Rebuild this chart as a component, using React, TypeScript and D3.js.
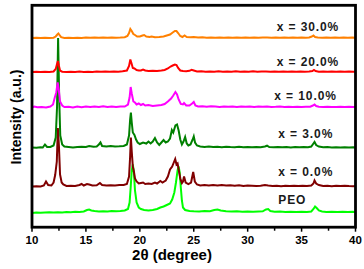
import React from "react";
import * as d3 from "d3";

// ---- data (2θ in degrees, intensity above each pattern's own baseline, a.u.) ----
const seriesNames = ["PEO", "x = 0.0%", "x = 3.0%", "x = 10.0%", "x = 20.0%", "x = 30.0%"];
const seriesColors = ["#00FF00", "#800000", "#008000", "#FF00FF", "#FF0000", "#FF8000"];
const offsets = [14.5, 40.5, 79.5, 119.5, 155, 189];

const peo: [number, number][] = [
  [10,-0.5],[10.4,0],[10.8,-0.3],[11.2,0],[11.6,0.3],[12.0,0],[12.4,0.3],[12.8,0],[13.2,0.5],[13.6,0.3],[14.0,0.8],[14.4,0.5],[14.8,1],[15.1,2.5],[15.3,3],[15.5,2],[15.8,1.5],[16.2,1],[16.6,1.3],[17.0,1],[17.4,1.5],[17.8,1.2],[18.2,1.5],[18.6,2],[18.9,3.5],[19.05,10],[19.15,25],[19.25,42],[19.35,48],[19.45,40],[19.55,22],[19.7,10],[19.9,5],[20.1,3.5],[20.4,2.5],[20.8,2],[21.2,2.5],[21.6,3.5],[21.9,5],[22.2,6],[22.5,7.5],[22.8,9],[23.0,13],[23.2,20],[23.35,30],[23.5,42],[23.6,46],[23.7,40],[23.8,25],[23.9,12],[24.0,5],[24.2,2.5],[24.6,1.5],[25.0,1.2],[25.5,1],[26.0,1.5],[26.5,1.3],[26.9,2.5],[27.2,3],[27.5,2],[28.0,1.2],[28.5,1],[29.0,1.3],[29.5,0.8],[30.0,1],[30.5,0.8],[31.0,1],[31.4,1.2],[31.7,3],[31.9,3.5],[32.1,1.5],[32.5,0.8],[33.0,1],[33.5,0.5],[34.0,0.8],[34.5,0.5],[35.0,0.8],[35.5,0.5],[35.9,1],[36.1,3.5],[36.25,6],[36.4,4.5],[36.6,2],[36.9,1],[37.3,0.5],[37.8,0.8],[38.3,0.5],[38.8,0.8],[39.3,0.5],[39.7,0.8],[40,0.5],
];

const x0: [number, number][] = [
  [10,0],[10.4,0.3],[10.8,0],[11.1,1],[11.3,5],[11.5,1.5],[11.8,1],[12.0,4],[12.15,11.5],[12.3,25],[12.4,58.5],[12.5,40],[12.6,12],[12.75,4],[12.9,2],[13.2,0.5],[13.6,0.8],[14.0,0.5],[14.4,1.5],[14.6,2.5],[14.8,1],[15.1,2.5],[15.3,2],[15.6,1],[16.0,1.2],[16.3,3.5],[16.5,1.5],[16.9,1],[17.3,1.2],[17.7,1],[18.1,1.5],[18.5,1.5],[18.8,2.5],[19.0,10],[19.1,30],[19.17,49],[19.25,35],[19.35,20],[19.45,15],[19.55,8],[19.7,5],[19.9,3],[20.1,3.5],[20.3,4],[20.5,2.5],[20.8,3],[21.1,2.5],[21.4,4],[21.6,3],[21.9,5.5],[22.1,4],[22.4,6],[22.6,10],[22.8,17],[23.0,20],[23.15,24],[23.28,27.5],[23.4,22],[23.5,23],[23.6,17],[23.75,8],[23.9,3.5],[24.0,5],[24.1,10],[24.25,4],[24.5,2.5],[24.75,4],[24.95,14.5],[25.1,5],[25.3,2],[25.6,1],[26.0,1.5],[26.4,1],[26.8,1.5],[27.2,1],[27.6,1.5],[28.0,1],[28.4,1.2],[28.8,0.8],[29.2,1.2],[29.6,0.5],[30.0,1],[30.4,0.8],[30.8,0.5],[31.2,0.8],[31.6,1.5],[31.9,1],[32.3,0.5],[32.7,0.8],[33.1,0.3],[33.5,0.8],[33.9,0.5],[34.3,0.8],[34.7,0.5],[35.1,0.8],[35.5,0.5],[35.9,1],[36.1,3],[36.2,6],[36.35,3],[36.6,1.5],[37.0,0.5],[37.4,0.8],[37.8,0.3],[38.2,0.8],[38.6,0.5],[39.0,0.8],[39.4,0.5],[39.8,0.3],[40,0.5],
];

const x3: [number, number][] = [
  [10,0],[10.4,-0.3],[10.8,0.3],[11.0,0],[11.2,3],[11.4,0.5],[11.7,0.5],[12.0,2],[12.2,10],[12.32,40],[12.42,109.5],[12.52,50],[12.62,12],[12.8,3],[13.0,1],[13.4,0.5],[13.8,0],[14.2,0.5],[14.6,0.8],[15.0,0.5],[15.3,1.5],[15.7,0.8],[16.0,1],[16.2,3],[16.35,5],[16.5,1.5],[16.9,1],[17.3,1.5],[17.7,1],[18.1,1.2],[18.5,1.5],[18.8,3],[19.0,12],[19.1,28],[19.17,35],[19.25,25],[19.35,15],[19.5,12.5],[19.65,8],[19.8,5],[20.0,3.5],[20.3,5],[20.6,4],[20.8,6],[21.0,4],[21.2,6],[21.4,9.5],[21.6,5],[21.8,2.5],[22.0,5],[22.2,7.5],[22.4,5],[22.6,6],[22.8,9],[22.97,17.5],[23.1,15],[23.3,22],[23.45,23],[23.6,17],[23.75,8],[23.9,3],[24.05,6],[24.2,10.5],[24.35,4],[24.5,2],[24.7,3],[24.9,8],[25.0,11],[25.12,5],[25.3,2],[25.6,1],[26.0,0.5],[26.4,1],[26.8,0.5],[27.2,0.8],[27.6,0.3],[28.0,0.8],[28.4,0.5],[28.8,0.3],[29.2,0.8],[29.6,0.3],[30.0,0.5],[30.4,0.3],[30.8,0.5],[31.2,0.3],[31.6,1],[31.8,1.8],[32.0,0.5],[32.4,0.3],[32.8,0.5],[33.2,0.3],[33.6,0.5],[34.0,0],[34.4,0.5],[34.8,0.3],[35.2,0.5],[35.6,0.3],[35.9,1],[36.1,4],[36.2,5.5],[36.35,2.5],[36.6,1],[37.0,0.3],[37.4,0.5],[37.8,0],[38.2,0.3],[38.6,0],[39.0,0.3],[39.4,0],[39.8,0.3],[40,0],
];

const x10: [number, number][] = [
  [10,0],[10.2,1],[10.5,0.3],[10.9,0.5],[11.3,0],[11.7,1],[11.95,3],[12.1,9.5],[12.25,15],[12.38,25],[12.48,18],[12.6,6],[12.8,2],[13.0,0.5],[13.4,0.8],[13.8,0],[14.2,1],[14.6,0.3],[15.0,1],[15.4,0.5],[15.8,1],[16.2,0.5],[16.6,1.2],[17.0,0.5],[17.4,1],[17.8,0.5],[18.2,1],[18.6,1],[18.9,3],[19.05,10],[19.15,20.5],[19.25,14],[19.4,6],[19.55,5],[19.7,3],[19.9,4],[20.1,2.5],[20.3,3.5],[20.5,2],[20.8,2.5],[21.2,1.5],[21.6,2],[22.0,2.5],[22.3,3.5],[22.6,6],[22.9,9],[23.1,12],[23.3,15.5],[23.45,13],[23.6,8],[23.8,3.5],[24.0,3],[24.1,4.5],[24.3,2],[24.6,2],[24.85,4],[25.0,5.5],[25.15,2],[25.4,1],[25.8,1.2],[26.2,0.8],[26.6,1.3],[27.0,1],[27.4,0.6],[27.8,1.1],[28.2,0.8],[28.6,1.1],[29.0,0.6],[29.4,1.1],[29.8,0.8],[30.2,1.1],[30.6,0.6],[31.0,1.1],[31.4,0.8],[31.8,1.1],[32.2,0.6],[32.6,0.8],[33.0,1.1],[33.4,0.6],[33.8,0.8],[34.2,0.6],[34.6,0.8],[35.0,0.6],[35.4,0.8],[35.8,0.8],[36.05,2],[36.2,3],[36.35,1.5],[36.6,0.8],[37.0,0.6],[37.4,0.8],[37.8,0.6],[38.2,0.5],[38.6,0.8],[39.0,0.5],[39.4,0.8],[39.8,0.5],[40,0.8],
];

const x20: [number, number][] = [
  [10,0],[10.4,0.3],[10.8,0],[11.2,0.3],[11.6,0],[12.0,0.5],[12.2,3],[12.32,8],[12.4,11],[12.5,6],[12.6,1.5],[12.8,0.3],[13.2,0],[13.6,0.3],[14.0,0],[14.4,0.5],[14.8,0],[15.2,0.3],[15.6,0],[16.0,0.5],[16.4,0.2],[16.8,0.5],[17.2,0.3],[17.6,0.5],[18.0,0.3],[18.4,0.8],[18.8,1.5],[19.0,6],[19.12,12.5],[19.22,9],[19.35,4],[19.5,3.5],[19.7,2],[19.9,1.5],[20.1,1.5],[20.3,2.5],[20.5,1.5],[20.8,1],[21.2,1.2],[21.6,1],[22.0,1.5],[22.3,2],[22.6,3.5],[22.85,5.5],[23.05,6.5],[23.25,7.5],[23.4,7],[23.55,4],[23.75,1.5],[24.0,1],[24.3,0.8],[24.6,1.2],[24.8,2.2],[25.0,1.5],[25.3,0.5],[25.7,0.8],[26.1,0.3],[26.5,0.5],[26.9,0.3],[27.3,0.8],[27.7,0.3],[28.1,0.5],[28.5,0.3],[28.9,0.8],[29.3,0.3],[29.7,0.5],[30.1,0.3],[30.5,0.8],[30.9,0.3],[31.3,0.5],[31.7,0.5],[32.1,0.3],[32.5,0.5],[32.9,0.3],[33.3,0.5],[33.7,0.3],[34.1,0.5],[34.5,0.3],[34.9,0.5],[35.3,0.3],[35.7,0.5],[36.0,1],[36.15,2],[36.3,1],[36.6,0.3],[37.0,0.5],[37.4,0.3],[37.8,0.5],[38.2,0.3],[38.6,0.5],[39.0,0.3],[39.4,0.5],[39.8,0.3],[40,0.3],
];

const x30: [number, number][] = [
  [10,0],[10.4,0.2],[10.8,0],[11.2,0.3],[11.6,0],[12.0,0.3],[12.2,1.5],[12.35,3.5],[12.45,4.5],[12.55,3],[12.7,0.8],[13.0,0],[13.4,0.3],[13.8,0],[14.2,0.3],[14.6,0],[15.0,0.5],[15.4,0.2],[15.8,0.5],[16.2,0.2],[16.6,0.5],[17.0,0.3],[17.4,0.5],[17.8,0.3],[18.2,0.5],[18.6,0.8],[18.85,2],[19.0,5],[19.12,9],[19.25,7],[19.4,4],[19.55,3],[19.75,1.5],[20.0,1.5],[20.25,2.5],[20.4,3],[20.6,1.5],[20.9,1],[21.1,1.5],[21.4,0.8],[21.8,1],[22.2,1.5],[22.5,2.5],[22.8,3.5],[23.05,5.5],[23.25,7],[23.4,7],[23.55,5],[23.75,2],[23.95,1],[24.15,2.5],[24.35,1],[24.7,0.8],[25.0,1],[25.4,0.5],[25.8,0.8],[26.2,0.3],[26.6,0.5],[27.0,0.3],[27.4,0.5],[27.8,0.3],[28.2,0.5],[28.6,0.3],[29.0,0.5],[29.4,0.3],[29.8,0.5],[30.2,0.3],[30.6,0.5],[31.0,0.3],[31.4,0.5],[31.8,0.5],[32.2,0.3],[32.6,0.5],[33.0,0.3],[33.4,0.5],[33.8,0.3],[34.2,0.5],[34.6,0.3],[35.0,0.5],[35.4,0.3],[35.7,0.5],[35.95,1.5],[36.1,2.5],[36.25,1],[36.5,0.5],[36.9,0.3],[37.3,0.5],[37.7,0.3],[38.1,0.5],[38.5,0.3],[38.9,0.5],[39.3,0.3],[39.7,0.5],[40,0.3],
];

const seriesData = [peo, x0, x3, x10, x20, x30];

const majorTicks = [10, 15, 20, 25, 30, 35, 40];
const minorTicks = [12.5, 17.5, 22.5, 27.5, 32.5, 37.5];

// ---- layout ----
const W = 364, H = 269;
const plot = { left: 32, right: 355.5, top: 5.3, bottom: 227.2 };
// per-label placement: left edge (px) and baseline gap above the pattern baseline
const labelLayout = [
  { x: 278.3, gap: 9 },
  { x: 278.3, gap: 11 },
  { x: 278.3, gap: 10 },
  { x: 274.3, gap: 8 },
  { x: 276.7, gap: 6.5 },
  { x: 276.7, gap: 7 },
];

const FONT = "'Liberation Sans', Arial, sans-serif";

export default function App() {
  const x = d3.scaleLinear().domain([10, 40]).range([plot.left, plot.right]);
  const y = d3.scaleLinear().domain([0, 222]).range([227, 5]);
  const line = d3
    .line<[number, number]>()
    .x((d) => x(d[0]))
    .y((d) => d[1]);

  return (
    <svg
      width={W}
      height={H}
      viewBox={`0 0 ${W} ${H}`}
      style={{ position: "absolute", left: 0, top: 0, background: "#fff" }}
      fontFamily={FONT}
    >
      <rect x={0} y={0} width={W} height={H} fill="#fff" />
      {seriesData.map((s, i) => (
        <path
          key={seriesNames[i]}
          d={line(s.map((d) => [d[0], y(offsets[i] + d[1])] as [number, number])) || ""}
          fill="none"
          stroke={seriesColors[i]}
          strokeWidth={2}
          strokeLinejoin="miter"
        />
      ))}
      {seriesNames.map((n, i) => (
        <text
          key={"lab" + n}
          x={labelLayout[i].x}
          y={y(offsets[i]) - labelLayout[i].gap}
          fontSize={12}
          fontWeight="bold"
          letterSpacing={0.9}
          fill="#1a1a1a"
        >
          {n}
        </text>
      ))}
      {/* frame */}
      <rect
        x={plot.left}
        y={plot.top}
        width={plot.right - plot.left}
        height={plot.bottom - plot.top}
        fill="none"
        stroke="#000"
        strokeWidth={2.8}
      />
      {majorTicks.map((t) => (
        <g key={"mj" + t}>
          <line x1={x(t)} x2={x(t)} y1={plot.bottom} y2={plot.bottom + 4.5} stroke="#000" strokeWidth={1.5} />
          <text x={x(t)} y={243.5} fontSize={11.5} fontWeight="bold" textAnchor="middle" fill="#000">
            {t}
          </text>
        </g>
      ))}
      {minorTicks.map((t) => (
        <line key={"mn" + t} x1={x(t)} x2={x(t)} y1={plot.bottom} y2={plot.bottom + 3.5} stroke="#000" strokeWidth={1.5} />
      ))}
      <text x={172} y={260} fontSize={15} fontWeight="bold" textAnchor="middle" fill="#000">
        2θ (degree)
      </text>
      <text
        transform="translate(20.5,117) rotate(-90)"
        fontSize={14}
        fontWeight="bold"
        textAnchor="middle"
        fill="#000"
      >
        Intensity (a.u.)
      </text>
    </svg>
  );
}
